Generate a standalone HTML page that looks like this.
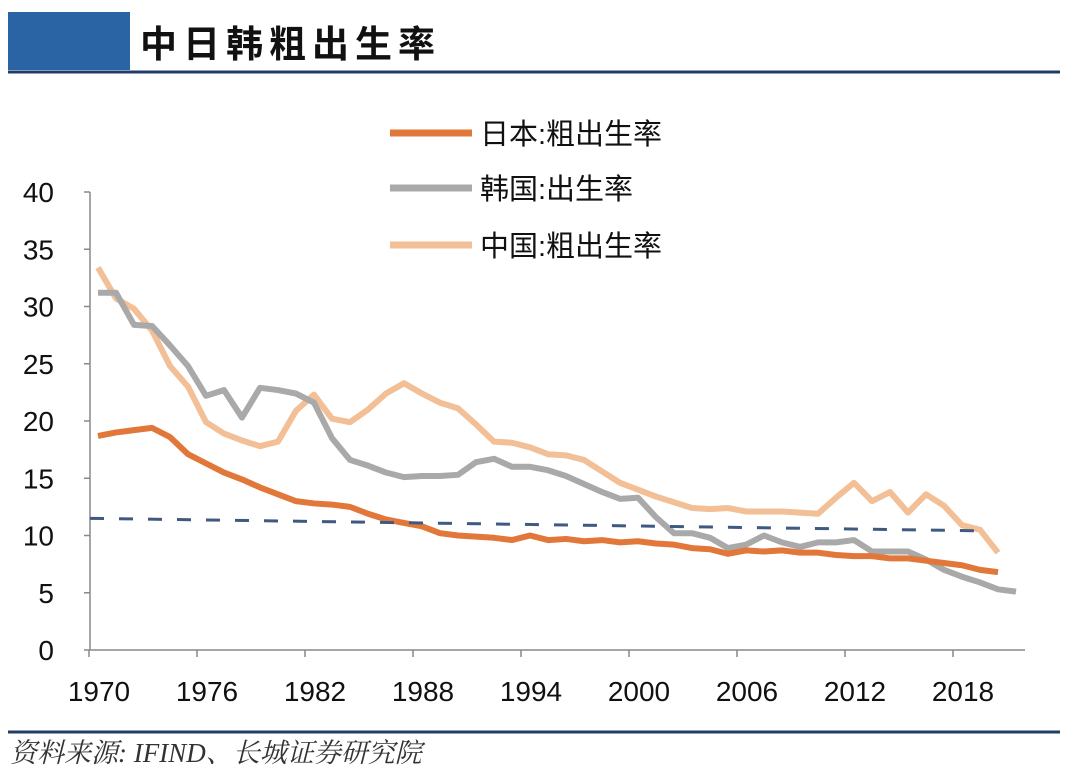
<!DOCTYPE html>
<html><head><meta charset="utf-8">
<style>
body{margin:0;background:#fff;width:1080px;height:773px;overflow:hidden;font-family:"Liberation Sans","Noto Sans CJK SC",sans-serif;}
</style></head>
<body>
<svg width="1080" height="773" viewBox="0 0 1080 773">
<rect x="8" y="12" width="122" height="58" fill="#2a64a4"/>
<text x="140" y="57" font-size="37" font-weight="bold" fill="#111" font-family="'Noto Sans CJK SC',sans-serif" letter-spacing="6">中日韩粗出生率</text>
<line x1="8" y1="72" x2="1060" y2="72" stroke="#1f3d66" stroke-width="3"/>
<line x1="8" y1="732" x2="1060" y2="732" stroke="#1f3d66" stroke-width="3"/>
<text x="10" y="762" font-size="27" font-style="italic" fill="#333" font-family="'Liberation Serif','Noto Serif CJK SC',serif">资料来源:  IFIND、长城证券研究院</text>
<g id="axes"></g>
<g id="series"></g>
<g id="legend"></g>
</svg>
<script>
const years=[];for(let y=1970;y<=2021;y++)years.push(y);
const yTicks=[0,5,10,15,20,25,30,35,40];
const xTickLabels=[1970,1976,1982,1988,1994,2000,2006,2012,2018];
const japan=[18.7,19.0,19.2,19.4,18.6,17.1,16.3,15.5,14.9,14.2,13.6,13.0,12.8,12.7,12.5,11.9,11.4,11.1,10.8,10.2,10.0,9.9,9.8,9.6,10.0,9.6,9.7,9.5,9.6,9.4,9.5,9.3,9.2,8.9,8.8,8.4,8.7,8.6,8.7,8.5,8.5,8.3,8.2,8.2,8.0,8.0,7.8,7.6,7.4,7.0,6.8];
const korea=[31.2,31.2,28.4,28.3,26.6,24.8,22.2,22.7,20.3,22.9,22.7,22.4,21.6,18.5,16.6,16.1,15.5,15.1,15.2,15.2,15.3,16.4,16.7,16.0,16.0,15.7,15.2,14.5,13.8,13.2,13.3,11.6,10.2,10.2,9.8,8.9,9.2,10.0,9.4,9.0,9.4,9.4,9.6,8.6,8.6,8.6,7.9,7.0,6.4,5.9,5.3,5.1];
const china=[33.4,30.7,29.8,27.9,24.8,23.0,19.9,18.9,18.3,17.8,18.2,20.9,22.3,20.2,19.9,21.0,22.4,23.3,22.4,21.6,21.1,19.7,18.2,18.1,17.7,17.1,17.0,16.6,15.6,14.6,14.0,13.4,12.9,12.4,12.3,12.4,12.1,12.1,12.1,12.0,11.9,13.3,14.6,13.0,13.8,12.0,13.6,12.6,10.9,10.5,8.5];
const trendYears=[1970,2019.5];
const trendValues=[11.5,10.4];
const legendLabels=["日本:粗出生率","韩国:出生率","中国:粗出生率"];
const NS="http://www.w3.org/2000/svg";
const X=y=>98+(y-1970)*18.0;
const Y=v=>650-v*11.45;
function mk(tag,attrs,parent){const e=document.createElementNS(NS,tag);for(const k in attrs)e.setAttribute(k,attrs[k]);parent.appendChild(e);return e;}
const axes=document.getElementById('axes');
let a=mk('line',{x1:90,y1:Y(0),x2:X(2021)+9,y2:Y(0),stroke:'#888','stroke-width':1.5},axes);


a=mk('line',{x1:90,y1:Y(0),x2:90,y2:Y(40),stroke:'#888','stroke-width':1.5},axes);


yTicks.forEach(v=>{
 const t=mk('line',{x1:84,y1:Y(v),x2:90,y2:Y(v),stroke:'#888','stroke-width':1.5},axes);
 
 
 const l=mk('text',{x:54,y:Y(v)+10,'font-size':28,fill:'#111','text-anchor':'end'},axes);
 l.textContent=v;
 
 
});
xTickLabels.forEach(yr=>{
 const t=mk('line',{x1:X(yr)-9,y1:Y(0),x2:X(yr)-9,y2:Y(0)+7,stroke:'#888','stroke-width':1.5},axes);
 
 
 const l=mk('text',{x:X(yr)+1,y:701,'font-size':28,fill:'#111','text-anchor':'middle'},axes);
 l.textContent=yr;
 
 
});
const ser=document.getElementById('series');
function pts(arr){return arr.map((v,i)=>X(years[i])+','+Y(v)).join(' ');}
let p=mk('polyline',{points:pts(china),fill:'none',stroke:'#f2bf96','stroke-width':6,'stroke-linejoin':'round'},ser);


p=mk('polyline',{points:pts(korea),fill:'none',stroke:'#a9a9a9','stroke-width':6,'stroke-linejoin':'round'},ser);


p=mk('polyline',{points:pts(japan),fill:'none',stroke:'#e2773a','stroke-width':6,'stroke-linejoin':'round'},ser);


p=mk('line',{x1:X(trendYears[0])-8,y1:Y(trendValues[0]),x2:X(trendYears[1]),y2:Y(trendValues[1]),stroke:'#3f5a80','stroke-width':3,'stroke-dasharray':'14,15'},ser);


const leg=document.getElementById('legend');
const legColors=['#e2773a','#a9a9a9','#f2bf96'];
const legY=[133,188,245];
legendLabels.forEach((lab,i)=>{
 const l=mk('line',{x1:390,y1:legY[i],x2:472,y2:legY[i],stroke:legColors[i],'stroke-width':7},leg);
 
 
 const t=mk('text',{x:480,y:legY[i]+11,'font-size':29,fill:'#111'},leg);
 t.textContent=lab;
 
 
});
</script>
</body></html>
